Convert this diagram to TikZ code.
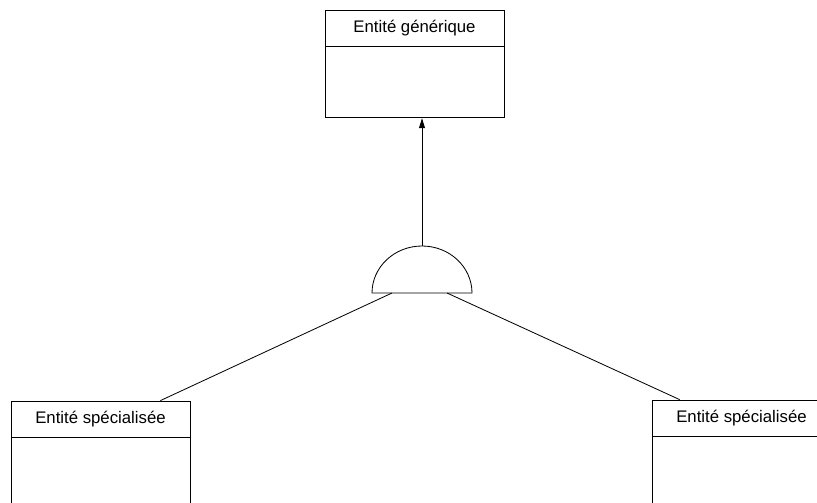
\documentclass[tikz,border=0pt]{standalone}
\usepackage{fontspec}
\setmainfont{Liberation Sans}
\usetikzlibrary{positioning,arrows.meta}
\begin{document}
\begin{tikzpicture}[x=0.03cm,y=0.03cm,line width=0.7pt,
  titre/.style={draw,minimum width=5.37cm,minimum height=1.08cm,inner sep=0pt,font=\fontsize{14.3}{16}\selectfont},
  corps/.style={draw,minimum width=5.37cm,minimum height=2.13cm,inner sep=0pt}]
\useasboundingbox (0,0) rectangle (817,-502);
\clip (0,0) rectangle (817,-502);
% entite generique
\node[titre] (gen) at (414.5,-28) {Entité générique};
\node[corps,below=0pt of gen] (genb) {};
% entites specialisees
\node[titre] (specg) at (100.5,-419) {Entité spécialisée};
\node[corps,below=0pt of specg] (specgb) {};
\node[titre] (specd) at (741.5,-418) {Entité spécialisée};
\node[corps,below=0pt of specd] (specdb) {};
% demi-cercle
\draw[fill=white] (372,-293) arc (180:0:50 and 47) -- cycle;
\coordinate (sommet) at (422,-246);
\coordinate (jg) at (392,-293);
\coordinate (jd) at (447,-293);
\draw[-{Triangle[length=3mm,width=1.8mm]}] (sommet) -- (sommet |- genb.south);
\draw (jg) -- ([xshift=-0.9cm]specg.north east);
\draw (jd) -- ([xshift=0.84cm]specd.north west);
\end{tikzpicture}
\end{document}
